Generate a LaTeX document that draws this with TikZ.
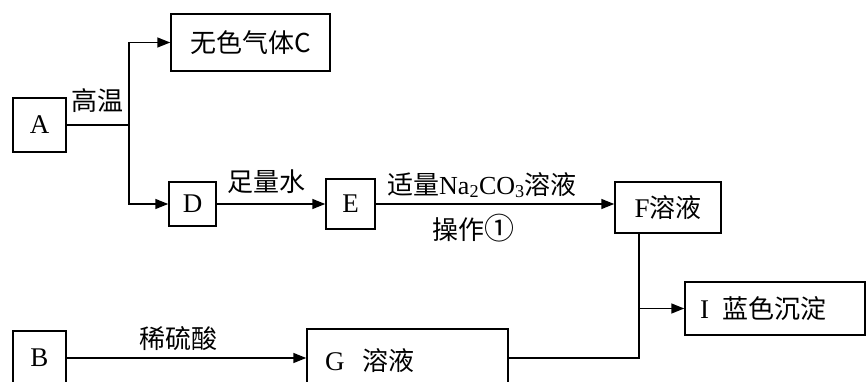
\documentclass[tikz,border=0pt]{standalone}
\usepackage{fontspec}
\setmainfont{Liberation Serif}
\newfontfamily\cjk{Noto Sans CJK SC}
\usetikzlibrary{arrows.meta}
\begin{document}
\begin{tikzpicture}[x=1pt,y=-1pt,
  box/.style={draw, line width=1.5pt, inner sep=0pt, font=\fontsize{27}{30}\selectfont},
  lbl/.style={inner sep=0pt, font=\fontsize{26}{30}\selectfont\cjk},
  conn/.style={line width=1.5pt},
  arr/.style={conn, -{Triangle[length=13pt,width=10pt]}}]
\useasboundingbox (0,0) rectangle (867,382);
\clip (0,0) rectangle (867,382);
% boxes
\node[box, minimum width=53pt, minimum height=54pt] (A) at (39.5,125) {A};
\node[box, minimum width=159pt, minimum height=57pt] (C) at (250.5,42.5) {{\cjk\fontsize{26}{30}\selectfont 无色气体C}};
\node[box, minimum width=47pt, minimum height=44pt] (D) at (192.5,204) {D};
\node[box, minimum width=49pt, minimum height=50pt] (E) at (350.5,204) {E};
\node[box, minimum width=106pt, minimum height=51pt] (F) at (668,207.5) {F{\cjk\fontsize{26}{30}\selectfont 溶液}};
\node[box, minimum width=180pt, minimum height=53pt, text width=150pt, align=left] (I) at (775,308.5) {I\, {\cjk\fontsize{26}{30}\selectfont 蓝色沉淀}};
\node[box, minimum width=53pt, minimum height=54pt] (B) at (39.5,358) {B};
\node[box, minimum width=201pt, minimum height=64pt, text width=165pt, align=left] (G) at (407.5,361) {G\ \ {\cjk\fontsize{26}{30}\selectfont 溶液}};
% labels
\node[lbl] (l1) at (97,101) {高温};
\node[lbl] (l2) at (266,182) {足量水};
\node[lbl] (l3) at (482,185) {适量{\rmfamily Na\textsubscript{2}CO\textsubscript{3}}溶液};
\node[lbl] (l4) at (473,228) {操作{\fontsize{30}{30}\selectfont ①}};
\node[lbl] (l5) at (178,339) {稀硫酸};
% junctions
\coordinate (j1) at (129,125);
\coordinate (fb) at (639,233);
\coordinate (jn) at (639,308.5);
% connectors
\draw[conn] (A.east) -- (j1);
\draw[arr] (j1) |- (C.west);
\draw[arr] (j1) |- (D.west);
\draw[arr] (D.east) -- (E.west);
\draw[arr] (E.east) -- (E.east -| F.west);
\draw[arr] (B.east) -- (B.east -| G.west);
\draw[conn] (G.east |- B.east) -| (fb);
\draw[arr] (jn) -- (I.west);
\end{tikzpicture}
\end{document}
